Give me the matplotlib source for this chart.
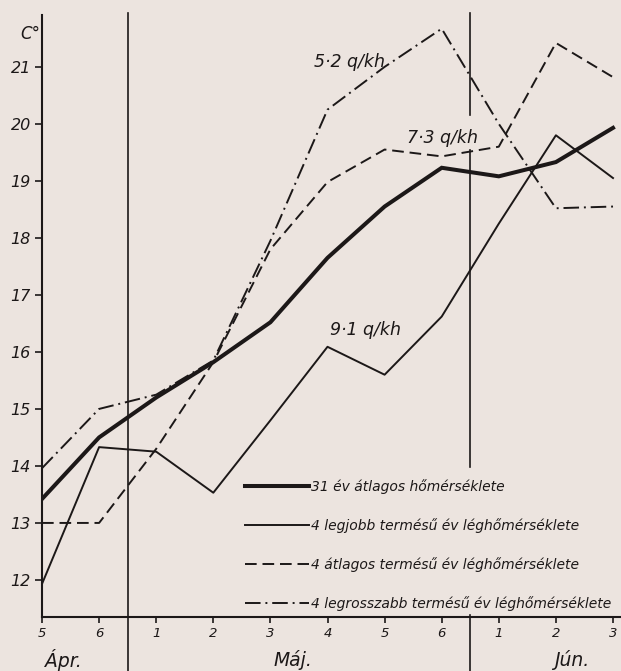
import matplotlib.pyplot as plt

# pentads (5-day periods) from April 5th to June 3rd
tick_labels = ['5', '6', '1', '2', '3', '4', '5', '6', '1', '2', '3']
months = ['Ápr.', 'Máj.', 'Jún.']
month_pos = [0.37, 4.4, 9.28]
month_breaks = [1.5, 7.5]

avg31 = [13.42, 14.5, 15.2, 15.82, 16.52, 17.65, 18.55, 19.23, 19.08, 19.33, 19.93]
best4 = [11.93, 14.33, 14.25, 13.53, 14.8, 16.09, 15.6, 16.62, 18.25, 19.8, 19.05]
mid4 = [13.0, 13.0, 14.3, 15.82, 17.8, 18.98, 19.55, 19.43, 19.6, 21.42, 20.82]
worst4 = [13.96, 15.0, 15.25, 15.85, 17.95, 20.25, 21.0, 21.67, 20.0, 18.52, 18.55]

names = ['31 év átlagos hőmérséklete',
         '4 legjobb termésű év léghőmérséklete',
         '4 átlagos termésű év léghőmérséklete',
         '4 legrosszabb termésű év léghőmérséklete']
yields = ['5·2 q/kh', '7·3 q/kh', '9·1 q/kh']

bg = '#ece4df'
ink = '#1c1818'
W, H = 621, 671

fig = plt.figure(figsize=(W / 100, H / 100), dpi=100, facecolor=bg)
ax = fig.add_axes([42 / W, 1 - 617 / H, (W - 42) / W, (617 - 15) / H])
ax.set_facecolor(bg)

x = list(range(len(tick_labels)))
l1, = ax.plot(x, avg31, color=ink, lw=2.9, solid_joinstyle='miter')
l2, = ax.plot(x, best4, color=ink, lw=1.4)
l3, = ax.plot(x, mid4, color=ink, lw=1.4, linestyle=(0, (6, 3)))
l4, = ax.plot(x, worst4, color=ink, lw=1.4, linestyle=(0, (8, 2.5, 1, 2.5)))

ax.set_xlim(0, 10.14)
ax.set_ylim(11.35, 21.91)

for s in ['top', 'right']:
    ax.spines[s].set_visible(False)
for s in ['left', 'bottom']:
    ax.spines[s].set_linewidth(1.5)
    ax.spines[s].set_color(ink)

itf = dict(style='italic', family='DejaVu Sans', color=ink)
ax.set_yticks(range(12, 22))
ax.set_yticklabels([str(v) for v in range(12, 22)], fontsize=11.5, **itf)
ax.set_xticks(x)
ax.set_xticklabels(tick_labels, fontsize=9.5, **itf)
ax.tick_params(axis='y', length=5, width=1.2, color=ink, pad=3)
ax.tick_params(axis='x', length=4, width=1.2, color=ink, pad=3)

# month separators
ax.axvline(month_breaks[0], ymin=-0.09, ymax=1.003, clip_on=False, color=ink, lw=1.2)
for lo, hi in [(0.834, 1.003), (0.249, 0.776), (-0.09, 0.0033)]:
    ax.axvline(month_breaks[1], ymin=lo, ymax=hi, clip_on=False, color=ink, lw=1.2)

for m, p in zip(months, month_pos):
    ax.text(p, 10.6, m, ha='center', va='center', fontsize=13.5, clip_on=False, **itf)

fig.text(30 / W, 1 - 34 / H, 'C°', ha='center', va='center', fontsize=12, **itf)

ax.text(5.39, 21.09, yields[0], ha='center', va='center', fontsize=12.5, **itf)
ax.text(7.02, 19.75, yields[1], ha='center', va='center', fontsize=12.5, **itf)
ax.text(5.66, 16.39, yields[2], ha='center', va='center', fontsize=12.5, **itf)

leg = ax.legend([l1, l2, l3, l4], names, loc='upper left',
                bbox_to_anchor=(245 / W, 1 - 479 / H), bbox_transform=fig.transFigure,
                frameon=False, borderpad=0, borderaxespad=0, handlelength=4.6,
                handletextpad=0.15, labelspacing=1.74,
                prop=dict(style='italic', family='DejaVu Sans', size=10))
for t in leg.get_texts():
    t.set_color(ink)

fig.savefig('out.png', dpi=100, facecolor=bg)
